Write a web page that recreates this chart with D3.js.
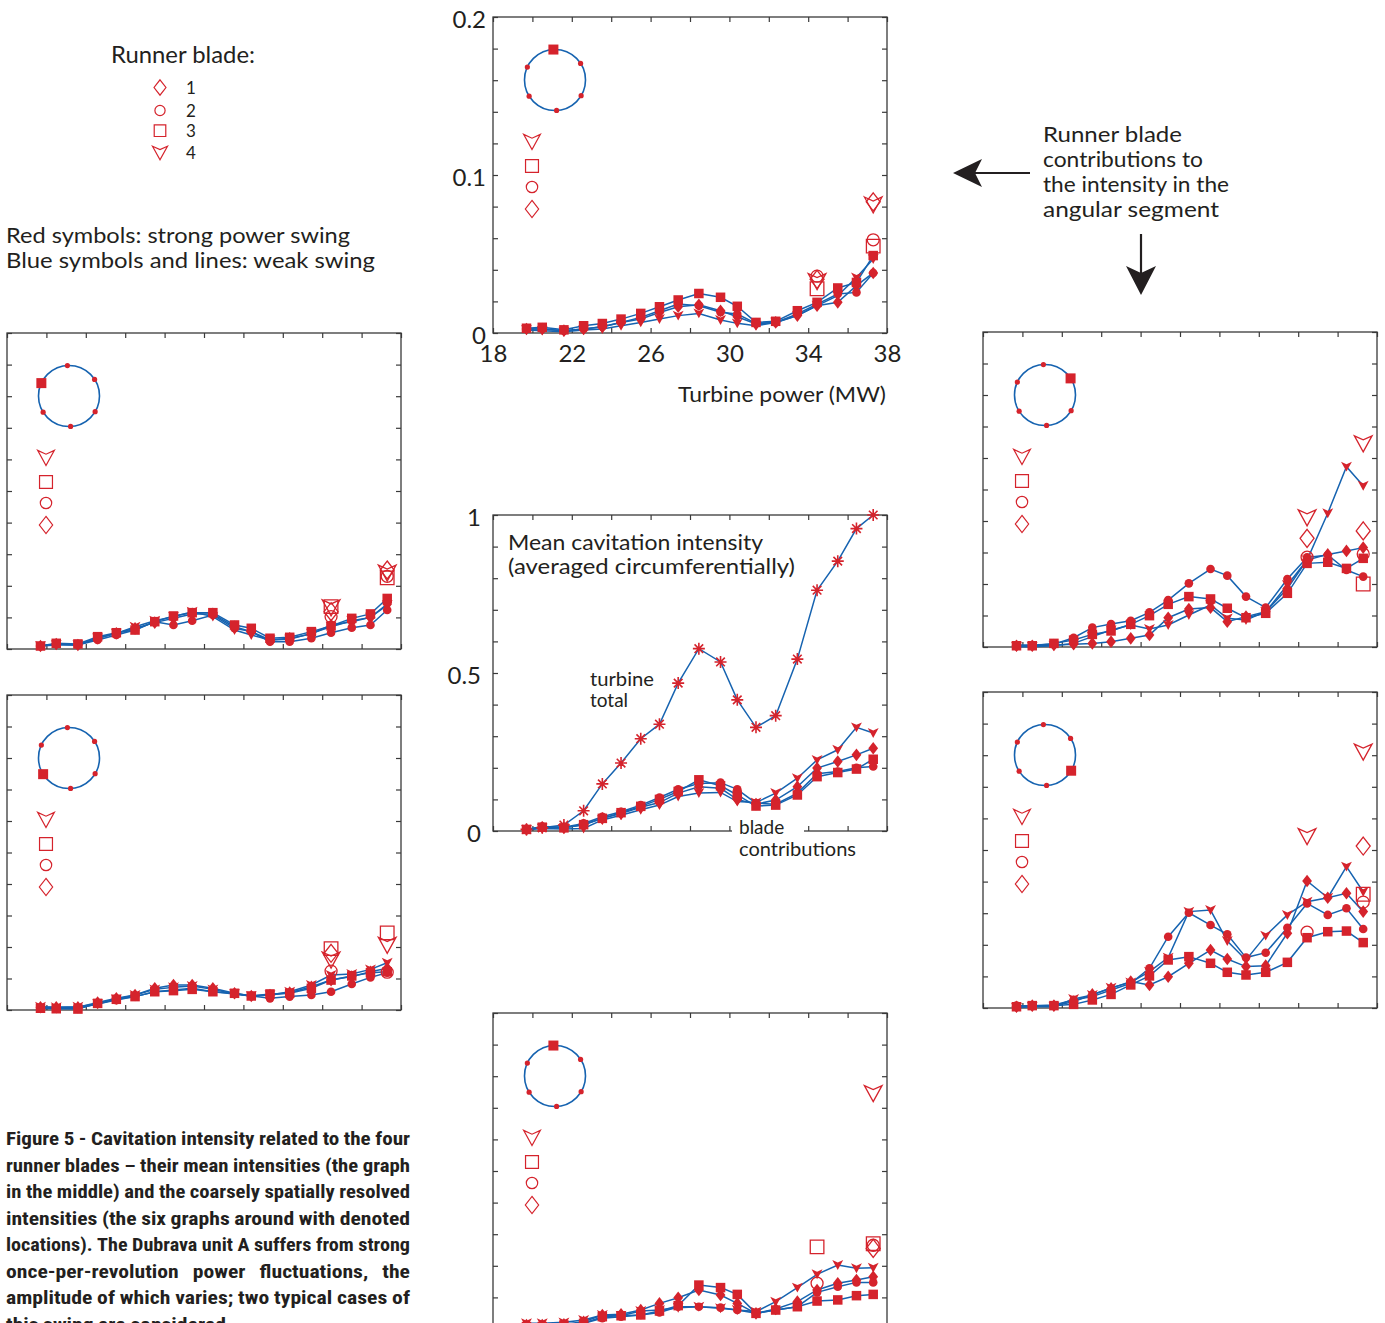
<!DOCTYPE html>
<html>
<head>
<meta charset="utf-8">
<script src="https://cdn.jsdelivr.net/npm/d3@7"></script>
<style>
  body { margin: 0; background: #fff; }
  svg { display: block; }
  text { font-family: Lato, "Open Sans", sans-serif; fill: #231f20; }
</style>
</head>
<body>
<svg width="1385" height="1323"></svg>
<script>
// turbine power (MW) of each measurement, shared by all panels
var power = [19.7, 20.5, 21.6, 22.6, 23.55, 24.5, 25.5, 26.45, 27.4, 28.45, 29.55, 30.4, 31.35, 32.35, 33.45, 34.45, 35.5, 36.45, 37.3];
var strongPower = [34.45, 37.3];
var xTickLabels = [18, 22, 26, 30, 34, 38];
var bladeNames = ['1', '2', '3', '4'];

// blade series order: 1 diamond, 2 circle, 3 square, 4 triangle
var topBlades = [
  [0.0025, 0.0025, 0.0015, 0.0025, 0.004, 0.0067, 0.0089, 0.013, 0.0166, 0.0179, 0.0141, 0.0103, 0.0057, 0.0067, 0.011, 0.0173, 0.0194, 0.030, 0.038],
  [0.0025, 0.0025, 0.0015, 0.0025, 0.004, 0.0067, 0.0099, 0.0141, 0.0183, 0.0173, 0.0131, 0.012, 0.0061, 0.0067, 0.012, 0.0183, 0.0247, 0.0257, 0.038],
  [0.003, 0.0036, 0.002, 0.0046, 0.006, 0.0088, 0.0124, 0.0166, 0.0209, 0.025, 0.0226, 0.0169, 0.0067, 0.0074, 0.0141, 0.0194, 0.0285, 0.032, 0.049],
  [0.0019, 0.0015, 0.0008, 0.0019, 0.0025, 0.0046, 0.0067, 0.0089, 0.011, 0.0124, 0.0082, 0.0061, 0.0046, 0.0067, 0.011, 0.0173, 0.0236, 0.0352, 0.0468]
];
var topStrong = [[0.034, 0.083], [0.036, 0.059], [0.028, 0.055], [0.0325, 0.081]];

var leftTopBlades = [
  [0.0019, 0.0032, 0.0025, 0.0068, 0.010, 0.0131, 0.0167, 0.0194, 0.0222, 0.0222, 0.0141, 0.011, 0.0057, 0.0068, 0.0095, 0.0152, 0.0173, 0.020, 0.0285],
  [0.0019, 0.0032, 0.0025, 0.0057, 0.0089, 0.012, 0.0173, 0.0152, 0.0179, 0.0215, 0.0131, 0.011, 0.0046, 0.0046, 0.0068, 0.0103, 0.0135, 0.0152, 0.0247],
  [0.0019, 0.0036, 0.0032, 0.0078, 0.0103, 0.012, 0.0173, 0.0209, 0.023, 0.023, 0.0152, 0.0131, 0.0068, 0.0074, 0.011, 0.0146, 0.0194, 0.0222, 0.032],
  [0.0019, 0.0025, 0.0025, 0.0068, 0.0099, 0.0141, 0.0179, 0.0205, 0.0236, 0.0205, 0.012, 0.0089, 0.0057, 0.0061, 0.0099, 0.0141, 0.0179, 0.020, 0.0278]
];
var leftTopStrong = [[0.0236, 0.050], [0.0205, 0.046], [0.0268, 0.045], [0.026, 0.048]];

var leftBottomBlades = [
  [0.0017, 0.0017, 0.0017, 0.0047, 0.0074, 0.0095, 0.0138, 0.0159, 0.0159, 0.0138, 0.0106, 0.0089, 0.0095, 0.011, 0.0148, 0.019, 0.0212, 0.0243, 0.0265],
  [0.0011, 0.0011, 0.0011, 0.0038, 0.0063, 0.0085, 0.0116, 0.0127, 0.0138, 0.0116, 0.0102, 0.0089, 0.0074, 0.0085, 0.0095, 0.0116, 0.0165, 0.0207, 0.0237],
  [0.0011, 0.0008, 0.0006, 0.0042, 0.0068, 0.0085, 0.0116, 0.0123, 0.0131, 0.0116, 0.0106, 0.0089, 0.0102, 0.0106, 0.0138, 0.019, 0.0216, 0.0237, 0.0243],
  [0.0021, 0.0017, 0.0021, 0.0038, 0.0068, 0.0095, 0.0131, 0.0144, 0.0152, 0.0131, 0.0102, 0.0089, 0.0095, 0.0116, 0.0159, 0.0222, 0.0229, 0.0258, 0.030]
];
var leftBottomStrong = [[0.036, null], [0.0247, 0.024], [0.039, 0.049], [0.0317, 0.041]];

var rightTopBlades = [
  [0.0008, 0.0008, 0.0013, 0.0017, 0.0023, 0.0034, 0.0055, 0.0076, 0.0186, 0.0241, 0.025, 0.0161, 0.0193, 0.0224, 0.0372, 0.0552, 0.0588, 0.061, 0.0631],
  [0.0013, 0.0013, 0.0017, 0.0059, 0.0123, 0.0146, 0.0167, 0.022, 0.0298, 0.0404, 0.0495, 0.0453, 0.032, 0.025, 0.0432, 0.0569, 0.0584, 0.0489, 0.0447],
  [0.0008, 0.0008, 0.0023, 0.0044, 0.008, 0.0102, 0.0144, 0.0199, 0.0271, 0.032, 0.0305, 0.0246, 0.0186, 0.0214, 0.0341, 0.0531, 0.0538, 0.0499, 0.0563],
  [0.0002, 0.0002, 0.0008, 0.0023, 0.0066, 0.0108, 0.014, 0.0114, 0.014, 0.0203, 0.0267, 0.0182, 0.0171, 0.0224, 0.0394, 0.0552, 0.0849, 0.1145, 0.1024]
];
var rightTopStrong = [[0.069, 0.0737], [0.057, 0.059], [null, 0.040], [0.082, 0.129]];

var rightBottomBlades = [
  [0.0008, 0.0015, 0.0015, 0.004, 0.0086, 0.0124, 0.0167, 0.0146, 0.0198, 0.0283, 0.0367, 0.031, 0.0262, 0.0268, 0.0473, 0.0804, 0.0698, 0.0726, 0.061],
  [0.0015, 0.0015, 0.0019, 0.0051, 0.0072, 0.0114, 0.0156, 0.0251, 0.0451, 0.0603, 0.0525, 0.0466, 0.0319, 0.035, 0.0508, 0.0662, 0.0589, 0.0631, 0.050],
  [0.0008, 0.0015, 0.0015, 0.0023, 0.0051, 0.0086, 0.0146, 0.0203, 0.0304, 0.0325, 0.0283, 0.0226, 0.0209, 0.0226, 0.0289, 0.0445, 0.0483, 0.0487, 0.0414],
  [0.0002, 0.0008, 0.0008, 0.0057, 0.0082, 0.0129, 0.0162, 0.023, 0.0319, 0.061, 0.062, 0.0424, 0.0304, 0.0458, 0.0589, 0.0673, 0.0698, 0.0895, 0.0736]
];
var rightBottomStrong = [[null, 0.1025], [0.048, 0.067], [null, 0.072], [0.1085, 0.162]];

var bottomBlades = [
  [0.0025, 0.0025, 0.003, 0.0046, 0.0089, 0.0093, 0.012, 0.0162, 0.0198, 0.0247, 0.0215, 0.0162, 0.0099, 0.0127, 0.0173, 0.0247, 0.0289, 0.031, 0.0331],
  [0.0015, 0.0015, 0.0021, 0.0036, 0.0068, 0.0078, 0.0089, 0.0105, 0.0141, 0.0141, 0.0135, 0.012, 0.0099, 0.012, 0.0141, 0.0232, 0.0268, 0.0295, 0.0295],
  [0.0015, 0.0015, 0.0025, 0.0036, 0.0078, 0.0084, 0.0089, 0.0114, 0.0148, 0.0278, 0.0262, 0.0219, 0.0099, 0.012, 0.0141, 0.0177, 0.0184, 0.0211, 0.0219],
  [0.0036, 0.0036, 0.0042, 0.0057, 0.0089, 0.0084, 0.0114, 0.012, 0.0135, 0.0141, 0.0131, 0.012, 0.011, 0.0173, 0.0262, 0.0346, 0.0405, 0.0384, 0.0388]
];
var bottomStrong = [[null, 0.051], [0.029, 0.053], [0.052, 0.054], [null, 0.149]];

// mean intensities (middle graph)
var middleBlades = [
  [0.005, 0.012, 0.010, 0.020, 0.040, 0.055, 0.075, 0.090, 0.120, 0.140, 0.135, 0.100, 0.085, 0.098, 0.140, 0.199, 0.220, 0.241, 0.262],
  [0.005, 0.014, 0.012, 0.024, 0.045, 0.061, 0.082, 0.106, 0.132, 0.150, 0.153, 0.132, 0.088, 0.085, 0.120, 0.181, 0.188, 0.200, 0.204],
  [0.005, 0.012, 0.010, 0.020, 0.040, 0.058, 0.078, 0.100, 0.125, 0.162, 0.143, 0.114, 0.079, 0.082, 0.114, 0.172, 0.185, 0.196, 0.227],
  [0.004, 0.008, 0.006, 0.008, 0.035, 0.050, 0.067, 0.082, 0.109, 0.120, 0.122, 0.093, 0.090, 0.120, 0.167, 0.225, 0.257, 0.328, 0.310]
];
var turbineTotal = [0.005, 0.010, 0.019, 0.064, 0.149, 0.215, 0.292, 0.338, 0.468, 0.577, 0.535, 0.415, 0.328, 0.365, 0.544, 0.762, 0.854, 0.957, 1.0];

var captionLines = [
  'Figure 5 - Cavitation intensity related to the four',
  'runner blades \u2013 their mean intensities (the graph',
  'in the middle) and the coarsely spatially resolved',
  'intensities (the six graphs around with denoted',
  'locations). The Dubrava unit A suffers from strong',
  'once-per-revolution power fluctuations, the',
  'amplitude of which varies; two typical cases of',
  'this swing are considered.'
];

var svg = d3.select('svg');
var red = '#d5232c', blue = '#1663b0', ink = '#231f20', frame = '#3a3a3a';

// marker shapes, k: 0 diamond, 1 circle, 2 square, 3 notched triangle
function shape(k, s) {
  if (k === 0) return 'M0,' + (-9 * s) + 'L' + (7 * s) + ',0L0,' + (9 * s) + 'L' + (-7 * s) + ',0Z';
  if (k === 1) { var r = 6 * s; return 'M' + (-r) + ',0A' + r + ',' + r + ' 0 1,0 ' + r + ',0A' + r + ',' + r + ' 0 1,0 ' + (-r) + ',0Z'; }
  if (k === 2) { var h = 6.8 * s; return 'M' + (-h) + ',' + (-h) + 'H' + h + 'V' + h + 'H' + (-h) + 'Z'; }
  return 'M' + (-8.8 * s) + ',' + (-8 * s) + 'L0,' + (-4 * s) + 'L' + (8.8 * s) + ',' + (-8 * s) + 'L0,' + (8 * s) + 'Z';
}
var asterisk = 'M-6,0H6M0,-6V6M-4.3,-4.3L4.3,4.3M-4.3,4.3L4.3,-4.3';

var panels = [
  {box: [493, 17, 887, 333], ymax: 0.2, blades: topBlades, strong: topStrong, dot: 0, xLabels: true, yLabels: [0, 0.1, 0.2], yPad: 7},
  {box: [7, 333, 401, 649], ymax: 0.2, blades: leftTopBlades, strong: leftTopStrong, dot: 5},
  {box: [7, 695, 401, 1010], ymax: 0.2, blades: leftBottomBlades, strong: leftBottomStrong, dot: 4},
  {box: [983, 332, 1377, 647], ymax: 0.2, blades: rightTopBlades, strong: rightTopStrong, dot: 1},
  {box: [983, 692, 1377, 1008], ymax: 0.2, blades: rightBottomBlades, strong: rightBottomStrong, dot: 2},
  {box: [493, 515, 887, 831], ymax: 1, blades: middleBlades, total: turbineTotal, yLabels: [0, 0.5, 1], yPad: 12},
  {box: [493, 1013, 887, 1329], ymax: 0.2, blades: bottomBlades, strong: bottomStrong, dot: 0}
];

panels.forEach(function (p) {
  var x0 = p.box[0], y0 = p.box[1], x1 = p.box[2], y1 = p.box[3];
  var x = d3.scaleLinear().domain([18, 38]).range([x0, x1]);
  var y = d3.scaleLinear().domain([0, p.ymax]).range([y1, y0]);
  var g = svg.append('g');

  var xt = d3.range(18, 39, 2);
  var yt = d3.range(0, 11).map(function (i) { return p.ymax * i / 10; });
  var none = function () { return ''; };
  var xFmt = p.xLabels ? function (d) { return xTickLabels.indexOf(d) >= 0 ? d : ''; } : none;
  var yFmt = p.yLabels ? function (d) {
    var hit = p.yLabels.filter(function (v) { return Math.abs(v - d) < 1e-9; });
    return hit.length ? String(hit[0]) : '';
  } : none;

  var axes = [
    g.append('g').attr('transform', 'translate(0,' + y1 + ')').call(d3.axisBottom(x).tickValues(xt).tickSize(-5).tickPadding(12).tickFormat(xFmt)),
    g.append('g').attr('transform', 'translate(0,' + y0 + ')').call(d3.axisTop(x).tickValues(xt).tickSize(-5).tickFormat(none)),
    g.append('g').attr('class', 'yleft').attr('transform', 'translate(' + x0 + ',0)').call(d3.axisLeft(y).tickValues(yt).tickSize(-5).tickPadding(p.yPad || 7).tickFormat(yFmt)),
    g.append('g').attr('transform', 'translate(' + x1 + ',0)').call(d3.axisRight(y).tickValues(yt).tickSize(-5).tickFormat(none))
  ];
  axes.forEach(function (a) {
    a.select('.domain').remove();
    a.attr('color', frame).attr('font-family', null).attr('font-size', null);
    a.selectAll('line').attr('stroke-width', 1.2);
    a.selectAll('text').style('font-size', '24px').style('fill', ink);
  });
  g.select('.yleft').selectAll('text').attr('dy', '0.42em');

  g.append('rect')
    .attr('x', x0).attr('y', y0).attr('width', x1 - x0).attr('height', y1 - y0)
    .attr('fill', 'none').attr('stroke', frame).attr('stroke-width', 1.3);

  var line = d3.line().x(function (d, i) { return x(power[i]); }).y(function (d) { return y(d); });

  if (p.total) {
    g.append('path').attr('d', line(p.total)).attr('fill', 'none').attr('stroke', blue).attr('stroke-width', 1.5);
  }
  p.blades.forEach(function (s) {
    g.append('path').attr('d', line(s)).attr('fill', 'none').attr('stroke', blue).attr('stroke-width', 1.5);
  });
  if (p.total) {
    g.selectAll(null).data(p.total).enter().append('path')
      .attr('d', asterisk)
      .attr('transform', function (d, i) { return 'translate(' + x(power[i]) + ',' + y(d) + ')'; })
      .attr('fill', 'none').attr('stroke', red).attr('stroke-width', 1.6);
  }
  [3, 0, 1, 2].forEach(function (k) {
    g.selectAll(null).data(p.blades[k]).enter().append('path')
      .attr('d', shape(k, k === 1 ? 0.72 : (k === 3 ? 0.62 : 0.7)))
      .attr('transform', function (d, i) { return 'translate(' + x(power[i]) + ',' + y(d) + ')'; })
      .attr('fill', red);
  });

  if (p.strong) {
    p.strong.forEach(function (vals, k) {
      var pts = vals.map(function (v, i) { return {p: strongPower[i], v: v}; }).filter(function (d) { return d.v !== null; });
      g.selectAll(null).data(pts).enter().append('path')
        .attr('d', shape(k, 1))
        .attr('transform', function (d) { return 'translate(' + x(d.p) + ',' + y(d.v) + ')'; })
        .attr('fill', 'none').attr('stroke', red).attr('stroke-width', 1.3);
    });

    // location of the angular segment on the runner
    var cx = x0 + 62, cy = y0 + 63, R = 30.5;
    g.append('circle').attr('cx', cx).attr('cy', cy).attr('r', R)
      .attr('fill', 'none').attr('stroke', blue).attr('stroke-width', 1.6);
    var angles = [-3, 57, 121, 177, 238, 295];
    angles.forEach(function (a, i) {
      var px = cx + R * Math.sin(a * Math.PI / 180), py = cy - R * Math.cos(a * Math.PI / 180);
      if (i === p.dot) {
        g.append('rect').attr('x', px - 5).attr('y', py - 5).attr('width', 10).attr('height', 10).attr('fill', red);
      } else {
        g.append('circle').attr('cx', px).attr('cy', py).attr('r', 2.6).attr('fill', red);
      }
    });

    // small open-symbol key inside each graph
    var keyOrder = [3, 2, 1, 0], keyDy = [125, 149, 170, 192];
    keyOrder.forEach(function (k, j) {
      g.append('path').attr('d', shape(k, 0.95))
        .attr('transform', 'translate(' + (x0 + 39) + ',' + (y0 + keyDy[j]) + ')')
        .attr('fill', 'none').attr('stroke', red).attr('stroke-width', 1.2);
    });
  }
});

// labels
function label(txt, x, y, size, opts) {
  opts = opts || {};
  var t = svg.append('text').attr('x', x).attr('y', y).style('font-size', size + 'px').text(txt);
  if (opts.anchor) t.attr('text-anchor', opts.anchor);
  if (opts.width) t.attr('textLength', opts.width).attr('lengthAdjust', 'spacingAndGlyphs');
  return t;
}

label('Turbine power (MW)', 886, 402, 22, {anchor: 'end', width: 208});

label('Mean cavitation intensity', 508, 550, 21, {width: 255});
label('(averaged circumferentially)', 508, 574, 21, {width: 287});
label('turbine', 590, 686, 19, {width: 64});
label('total', 590, 707, 19);
svg.append('rect').attr('x', 732).attr('y', 822).attr('width', 72).attr('height', 14).attr('fill', '#fff');
label('blade', 739, 834, 19);
label('contributions', 739, 856, 19, {width: 117});

// blade key at the top left
label('Runner blade:', 111, 63, 23, {width: 144});
[0, 1, 2, 3].forEach(function (k, j) {
  var ky = [87.5, 110.5, 130.7, 153][j];
  svg.append('path').attr('d', shape(k, 0.85))
    .attr('transform', 'translate(160,' + ky + ')')
    .attr('fill', 'none').attr('stroke', red).attr('stroke-width', 1.2);
  label(bladeNames[j], 186, ky + 6, 17);
});
label('Red symbols: strong power swing', 6, 243, 21, {width: 344});
label('Blue symbols and lines: weak swing', 6, 268, 21, {width: 369});

// note on the right with arrows
var noteLines = ['Runner blade', 'contributions to', 'the intensity in the', 'angular segment'];
var noteWidths = [139, 160, 186, 176];
noteLines.forEach(function (s, i) { label(s, 1043, 142 + 25 * i, 21, {width: noteWidths[i]}); });
svg.append('line').attr('x1', 1030).attr('y1', 173).attr('x2', 975).attr('y2', 173).attr('stroke', ink).attr('stroke-width', 2.2);
svg.append('path').attr('d', 'M953,173L982,159L975,173L982,187Z').attr('fill', ink);
svg.append('line').attr('x1', 1141).attr('y1', 234).attr('x2', 1141).attr('y2', 275).attr('stroke', ink).attr('stroke-width', 2.2);
svg.append('path').attr('d', 'M1141,295L1126,266L1141,273L1156,266Z').attr('fill', ink);

// caption, justified between x = 6 and x = 410; glyphs widened a little like the bold condensed face
var capLeft = 6, capWidth = 404, maxStretch = 1.17, minGap = 4.5;
captionLines.forEach(function (s, i) {
  var base = 1145 + 26.5 * i;
  var t = svg.append('text').attr('y', base)
    .style('font-family', '"Liberation Sans Narrow", "Roboto Condensed", "DejaVu Sans Condensed", sans-serif')
    .style('font-weight', 'bold').style('font-size', '18.5px').style('fill', ink);
  var words = s.split(' ');
  var spans = words.map(function (w) { return t.append('tspan').text(w); });
  var widths = spans.map(function (sp) { return sp.node().getComputedTextLength(); });
  var sum = d3.sum(widths);
  var last = i === captionLines.length - 1;
  var scale = last ? maxStretch : Math.min(maxStretch, (capWidth - minGap * (words.length - 1)) / sum);
  var gap = last ? minGap : (capWidth - sum * scale) / (words.length - 1);
  var cx = capLeft;
  spans.forEach(function (sp, j) {
    sp.attr('x', cx).attr('textLength', widths[j] * scale).attr('lengthAdjust', 'spacingAndGlyphs');
    cx += widths[j] * scale + gap;
  });
});
</script>
</body>
</html>
